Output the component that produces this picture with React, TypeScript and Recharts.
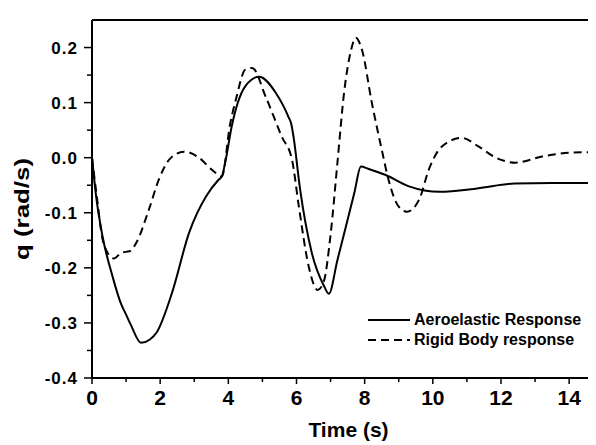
import { LineChart, Line, XAxis, YAxis, ReferenceLine, Legend } from "recharts";

// Aeroelastic response (solid)
const aeroT = [0, 0.12, 0.3, 0.6, 0.85, 1.0, 1.15, 1.44, 1.7, 1.9, 2.35, 2.85, 3.35, 3.7, 3.81, 3.92, 4.1, 4.5, 4.9, 5.4, 5.78, 5.84, 5.92, 6.1, 6.45, 6.8, 6.95, 7.2, 7.45, 7.7, 7.89, 8.1, 8.6, 9.3, 10.2, 11.3, 12.4, 13.5, 14.7];
const aeroQ = [0, -0.07, -0.14, -0.215, -0.265, -0.285, -0.305, -0.336, -0.33, -0.317, -0.245, -0.136, -0.07, -0.041, -0.034, -0.005, 0.057, 0.13, 0.147, 0.117, 0.072, 0.063, 0.035, -0.055, -0.173, -0.232, -0.247, -0.186, -0.125, -0.063, -0.016, -0.02, -0.031, -0.052, -0.062, -0.056, -0.047, -0.046, -0.046];

// Rigid body response (dashed)
const rigidT = [0, 0.15, 0.3, 0.45, 0.64, 0.88, 1.1, 1.32, 1.67, 1.96, 2.26, 2.7, 3.14, 3.52, 3.81, 4.05, 4.22, 4.5, 4.7, 5.1, 5.57, 5.87, 6.07, 6.36, 6.62, 6.8, 7.0, 7.2, 7.4, 7.6, 7.74, 7.92, 8.21, 8.5, 8.7, 9.0, 9.24, 9.6, 9.88, 10.26, 10.85, 11.35, 11.85, 12.43, 13.2, 14.0, 14.7];
const rigidQ = [0, -0.075, -0.145, -0.172, -0.183, -0.172, -0.17, -0.152, -0.094, -0.04, -0.004, 0.011, 0, -0.022, -0.034, 0.06, 0.105, 0.16, 0.163, 0.11, 0.038, -0.004, -0.089, -0.198, -0.24, -0.225, -0.14, -0.01, 0.12, 0.195, 0.218, 0.196, 0.1, 0.015, -0.04, -0.089, -0.098, -0.076, -0.022, 0.02, 0.036, 0.02, 0, -0.009, 0.002, 0.009, 0.01];

const xTicks = [0, 1, 2, 3, 4, 5, 6, 7, 8, 9, 10, 11, 12, 13, 14];
const yTicks = [-0.4, -0.35, -0.3, -0.25, -0.2, -0.15, -0.1, -0.05, 0, 0.05, 0.1, 0.15, 0.2];

const aeroData = aeroT.map((t, i) => ({ t, q: aeroQ[i] }));
const rigidData = rigidT.map((t, i) => ({ t, q: rigidQ[i] }));

const font = "Arial, 'Liberation Sans', Helvetica, sans-serif";

const XTick = ({ x, y, payload }: any) => {
  const major = payload.value % 2 === 0;
  return (
    <g>
      <line x1={x} x2={x} y1={y} y2={y + (major ? 6 : 4)} stroke="#000" strokeWidth={1.5} />
      {major && (
        <text x={x} y={y + 27} textAnchor="middle" fontSize={21} fontWeight="bold" fontFamily={font} fill="#000">
          {payload.value}
        </text>
      )}
    </g>
  );
};

const YTick = ({ x, y, payload }: any) => {
  const major = Math.round(payload.value * 100) % 10 === 0;
  return (
    <g>
      <line x1={x} x2={x - (major ? 8 : 5)} y1={y} y2={y} stroke="#000" strokeWidth={1.5} />
      {major && (
        <text x={x - 14} y={y + 6} textAnchor="end" fontSize={17} fontWeight="bold" fontFamily={font} letterSpacing={1} fill="#000">
          {payload.value.toFixed(1)}
        </text>
      )}
    </g>
  );
};

const YTitle = ({ viewBox }: any) => {
  const cx = viewBox.x + 22;
  const cy = viewBox.y + viewBox.height / 2 + 10;
  return (
    <text x={cx} y={cy} transform={`rotate(-90 ${cx} ${cy})`} textAnchor="middle" dominantBaseline="central"
      fontSize={20} fontWeight="bold" fontFamily={font} fill="#000" textLength={102} lengthAdjust="spacingAndGlyphs">
      q (rad/s)
    </text>
  );
};

const XTitle = ({ viewBox }: any) => (
  <text x={viewBox.x + viewBox.width / 2 + 6} y={viewBox.y + 59} textAnchor="middle"
    fontSize={21} fontWeight="bold" fontFamily={font} fill="#000">
    Time (s)
  </text>
);

const LegendBox = ({ payload }: any) => (
  <div style={{ fontFamily: font, fontWeight: "bold", fontSize: 16, color: "#000" }}>
    {(payload || []).map((entry: any) => (
      <div key={entry.value} style={{ display: "flex", alignItems: "center", height: 20 }}>
        <svg width={44} height={20} style={{ marginRight: 2 }}>
          <line x1={0} x2={42} y1={10} y2={10} stroke="#000" strokeWidth={2}
            strokeDasharray={entry.payload?.strokeDasharray} />
        </svg>
        <span>{entry.value}</span>
      </div>
    ))}
  </div>
);

export default function App() {
  return (
    <div style={{ marginLeft: -8, marginTop: -8, width: 596, height: 445, background: "#fff" }}>
      <LineChart width={596} height={445} margin={{ top: 20, right: 3, bottom: 0, left: 0 }}>
        <XAxis
          type="number"
          dataKey="t"
          domain={[0, 14.7]}
          ticks={xTicks}
          interval={0}
          tickSize={0}
          tickMargin={0}
          tickLine={false}
          tick={<XTick />}
          height={67}
          axisLine={{ stroke: "#000", strokeWidth: 2 }}
          allowDataOverflow
          label={<XTitle />}
        />
        <YAxis
          type="number"
          dataKey="q"
          domain={[-0.4, 0.25]}
          ticks={yTicks}
          interval={0}
          tickSize={0}
          tickMargin={0}
          tickLine={false}
          tick={<YTick />}
          width={92}
          axisLine={{ stroke: "#000", strokeWidth: 2 }}
          allowDataOverflow
          label={<YTitle />}
        />
        <ReferenceLine y={0.25} stroke="#000" strokeWidth={2} />
        <ReferenceLine x={14.7} stroke="#000" strokeWidth={2} />
        <Line
          data={aeroData}
          dataKey="q"
          name="Aeroelastic Response"
          type="monotone"
          stroke="#000"
          strokeWidth={2}
          dot={false}
          isAnimationActive={false}
        />
        <Line
          data={rigidData}
          dataKey="q"
          name="Rigid Body response"
          type="monotone"
          stroke="#000"
          strokeWidth={2}
          strokeDasharray="8 5"
          dot={false}
          isAnimationActive={false}
        />
        <Legend
          layout="horizontal"
          verticalAlign="middle"
          align="center"
          content={<LegendBox />}
          wrapperStyle={{ left: 368, top: 310, width: 228, height: 40 }}
        />
      </LineChart>
    </div>
  );
}
